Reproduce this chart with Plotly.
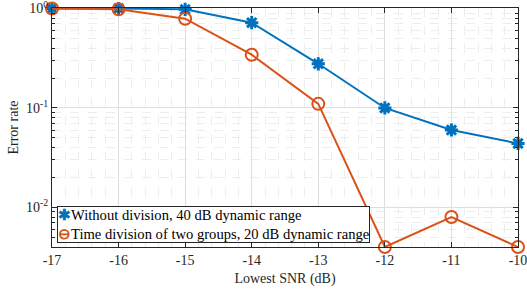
import plotly.graph_objects as go
import numpy as np

snr = [-17, -16, -15, -14, -13, -12, -11, -10]
err_no_div = [1.0, 1.0, 0.98, 0.72, 0.278, 0.1, 0.06, 0.044]
err_time_div = [1.0, 0.98, 0.79, 0.343, 0.11, 0.004, 0.008, 0.004]
names = ["Without division, 40 dB dynamic range",
         "Time division of two groups, 20 dB dynamic range"]
ytick_vals = [0.01, 0.1, 1]
ytick_text = ["10<sup>-2</sup>", "10<sup>-1</sup>", "10<sup>0</sup>"]

blue = "#0072BD"
orange = "#D95319"
font = "Liberation Serif, Times New Roman, serif"

fig = go.Figure()
fig.add_trace(go.Scatter(x=snr, y=err_no_div, mode="lines+markers", name=names[0],
                         line=dict(color=blue, width=2),
                         marker=dict(symbol="asterisk-open", size=11, color=blue,
                                     line=dict(color=blue, width=3)),
                         cliponaxis=False))
fig.add_trace(go.Scatter(x=snr, y=err_time_div, mode="lines+markers", name=names[1],
                         line=dict(color=orange, width=2),
                         marker=dict(symbol="circle-open", size=12, color=orange,
                                     line=dict(color=orange, width=2)),
                         cliponaxis=False))

minor_y = []
for d in [0.001, 0.01, 0.1]:
    for k in range(2, 10):
        minor_y.append(k * d)

legend_text = (f"<span style='color:{blue}'><b>✱</b></span>{names[0]}<br>"
               f"<span style='color:{orange}'><b>⊖</b></span>{names[1]}")

fig.update_layout(
    width=527, height=293,
    margin=dict(l=52, r=9, t=8, b=46),
    paper_bgcolor="white", plot_bgcolor="white",
    font=dict(family=font, size=14, color="#262626"),
    showlegend=False,
    xaxis=dict(range=[-17, -10], tickvals=snr, ticktext=[str(v) for v in snr],
               automargin=False, ticklabeloverflow="allow",
               ticks="inside", ticklen=5, tickcolor="#262626",
               showline=True, linecolor="#262626", linewidth=1, mirror="allticks",
               showgrid=True, gridcolor="#dedede", gridwidth=1, zeroline=False,
               minor=dict(dtick=0.2, showgrid=True, gridcolor="#ededed", griddash="dash", ticks=""),
               title=dict(text="Lowest SNR (dB)", font=dict(family=font, size=14), standoff=6),
               tickfont=dict(family=font, size=14)),
    yaxis=dict(type="log", range=[np.log10(0.004), 0.005],
               tickvals=ytick_vals, ticktext=ytick_text,
               automargin=False, ticklabeloverflow="allow",
               ticks="inside", ticklen=5, tickcolor="#262626",
               showline=True, linecolor="#262626", linewidth=1, mirror="allticks",
               showgrid=True, gridcolor="#dedede", gridwidth=1, zeroline=False,
               minor=dict(tickvals=minor_y, showgrid=True, gridcolor="#ededed", griddash="dash",
                          ticks="inside", ticklen=3, tickcolor="#262626"),
               title=dict(text="Error rate", font=dict(family=font, size=14), standoff=4),
               tickfont=dict(family=font, size=14)),
    annotations=[dict(text=legend_text, xref="paper", yref="paper", x=0.011, y=0.017,
                      xanchor="left", yanchor="bottom", align="left", showarrow=False,
                      font=dict(family=font, size=14.6, color="#000000"),
                      bgcolor="white", bordercolor="#262626", borderwidth=1, borderpad=0)],
)

fig.write_html("out.html", config={"displayModeBar": False},
               post_script="document.body.style.margin='0px';document.body.style.overflow='hidden';")
